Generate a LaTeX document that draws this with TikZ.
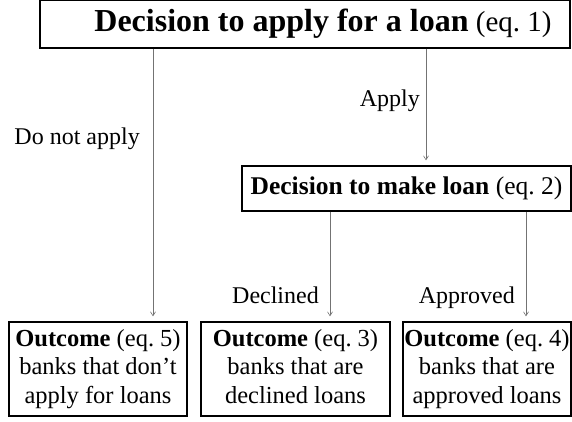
\documentclass[tikz,border=0pt]{standalone}
\usepackage{fontspec}
\setmainfont{Liberation Serif}
\usetikzlibrary{arrows.meta}
\begin{document}
\begin{tikzpicture}[x=1pt,y=-1pt,
  box/.style={draw=black,line width=1.3pt,inner sep=0pt,align=center},
  outbox/.style={box,minimum height=94pt,font=\fontsize{24.5}{28.5}\selectfont},
  conn/.style={draw=black!55,line width=0.6pt,-{Straight Barb[length=4pt,width=5pt]},shorten >=5pt},
  lbl/.style={font=\fontsize{24}{28}\selectfont,inner sep=0pt}]
\useasboundingbox (0,0) rectangle (572,421);
\node[box,minimum width=530pt,minimum height=48pt,font=\fontsize{29}{30}\selectfont] (top) at (305,24) {\hspace*{36pt}\textbf{\fontsize{32}{30}\selectfont Decision to apply for a loan} (eq.~1)};
\node[box,minimum width=329pt,minimum height=45pt,font=\fontsize{25.5}{30}\selectfont] (mid) at (406.5,188.5) {\textbf{Decision to make loan} (eq.~2)};
\node[outbox,minimum width=178pt] (o5) at (98,369) {\textbf{Outcome} (eq.~5)\\banks that don’t\\apply for loans\vphantom{p}};
\node[outbox,minimum width=189pt] (o3) at (295.5,369) {\textbf{Outcome} (eq.~3)\\banks that are\\declined loans\vphantom{p}};
\node[outbox,minimum width=168pt] (o4) at (487,369) {\textbf{Outcome} (eq.~4)\\banks that are\\approved loans\vphantom{p}};
\draw[conn] (top.south -| 153,0) -- (o5.north -| 153,0);
\draw[conn] (top.south -| 426,0) -- (mid.north -| 426,0);
\draw[conn] (mid.south -| 330,0) -- (o3.north -| 330,0);
\draw[conn] (mid.south -| 526,0) -- (o4.north -| 526,0);
\node[lbl,anchor=base east] (lapply) at (420,106) {Apply};
\node[lbl,anchor=base east] (lnot) at (140,144) {Do not apply};
\node[lbl,anchor=base east] (ldecl) at (319,303) {Declined};
\node[lbl,anchor=base east] (lappr) at (515,303) {Approved};
\end{tikzpicture}
\end{document}
